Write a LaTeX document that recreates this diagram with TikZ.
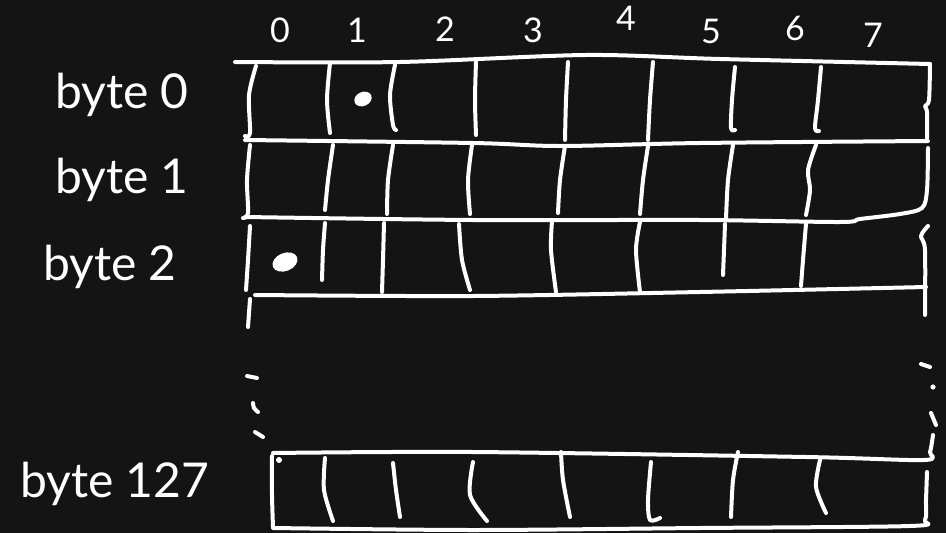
\documentclass[tikz,border=0pt]{standalone}
\usepackage{fontspec}
\setmainfont{Lato}
\definecolor{board}{RGB}{20,20,20}
\begin{document}
\begin{tikzpicture}[x=1pt,y=-1pt,
  chalk/.style={white, line width=4pt, line cap=round, line join=round},
  lab/.style={text=white, font=\fontsize{48}{48}\selectfont, anchor=base west, inner sep=0pt},
  num/.style={text=white, font=\fontsize{34}{34}\selectfont, inner sep=0pt}]
\fill[board] (0,0) rectangle (946,533);
\useasboundingbox (0,0) rectangle (946,533);
% row labels
\node[lab] (b0) at (55,108) {byte 0};
\node[lab] (b1) at (55,193) {byte 1};
\node[lab] (b2) at (43,280) {byte 2};
\node[lab] (b127) at (20,497) {byte 127};
% column numbers
\node[num] (n0) at (280,30) {0};
\node[num] (n1) at (357,30) {1};
\node[num] (n2) at (445,29) {2};
\node[num] (n3) at (533,30) {3};
\node[num] (n4) at (626,18) {4};
\node[num] (n5) at (711,31) {5};
\node[num] (n6) at (795,28) {6};
\node[num] (n7) at (873,35) {7};
% horizontal lines and outer edges
\draw[chalk] plot[smooth] coordinates {(235,62) (400,62) (586,55) (720,59) (930,64)};
\draw[chalk] plot[smooth] coordinates {(930,64) (929,100) (925,106) (927,112) (927,138)};
\draw[chalk] plot[smooth] coordinates {(245,140) (473,143) (560,146) (700,143) (928,141)};
\draw[chalk] plot[smooth] coordinates {(928,148) (927,190) (922,208) (900,214) (860,219) (840,222) (700,220) (473,220) (245,217)};
\draw[chalk] plot[smooth] coordinates {(928,226) (921,236) (925,250) (925,315)};
\draw[chalk] plot[smooth] coordinates {(255,295) (473,296) (700,292) (926,287)};
% left edges
\draw[chalk] plot[smooth] coordinates {(256,66) (249,95) (250,133) (245,136)};
\draw[chalk] plot[smooth] coordinates {(250,145) (247,180) (248,213) (243,218)};
\draw[chalk] plot[smooth] coordinates {(250,226) (248,260) (246,290)};
\draw[chalk] plot[smooth] coordinates {(250,299) (248,327)};
% row 0 dividers
\draw[chalk] plot[smooth] coordinates {(330,63) (327,100) (330,133)};
\draw[chalk] plot[smooth] coordinates {(395,65) (390,95) (393,125) (396,130)};
\draw[chalk] plot[smooth] coordinates {(476,62) (475,100) (476,135)};
\draw[chalk] plot[smooth] coordinates {(568,62) (566,100) (565,140)};
\draw[chalk] plot[smooth] coordinates {(653,62) (650,100) (648,140)};
\draw[chalk] plot[smooth] coordinates {(735,67) (732,100) (731,128) (735,130)};
\draw[chalk] plot[smooth] coordinates {(821,67) (818,100) (815,128) (819,131)};
% row 1 dividers
\draw[chalk] plot[smooth] coordinates {(333,145) (328,180) (325,210)};
\draw[chalk] plot[smooth] coordinates {(393,145) (388,180) (387,214)};
\draw[chalk] plot[smooth] coordinates {(472,145) (468,180) (470,214)};
\draw[chalk] plot[smooth] coordinates {(565,146) (560,180) (558,213)};
\draw[chalk] plot[smooth] coordinates {(648,146) (643,180) (640,214)};
\draw[chalk] plot[smooth] coordinates {(733,145) (728,180) (726,219)};
\draw[chalk] plot[smooth] coordinates {(816,145) (808,170) (810,190) (806,215)};
% row 2 dividers
\draw[chalk] plot[smooth] coordinates {(325,223) (323,250) (322,280)};
\draw[chalk] plot[smooth] coordinates {(384,223) (383,260) (382,292)};
\draw[chalk] plot[smooth] coordinates {(459,224) (462,260) (470,290)};
\draw[chalk] plot[smooth] coordinates {(552,221) (551,250) (556,292)};
\draw[chalk] plot[smooth] coordinates {(640,222) (636,250) (640,292)};
\draw[chalk] plot[smooth] coordinates {(725,224) (724,250) (723,275)};
\draw[chalk] plot[smooth] coordinates {(806,224) (803,260) (801,286)};
% set bits
\fill[white, rotate around={25:(363,99)}] (363,99) ellipse (9 and 7);
\fill[white, rotate around={22:(285,262)}] (285,262) ellipse (13 and 9);
% ellipses
\draw[chalk] plot[smooth] coordinates {(247,376) (257,378)};
\draw[chalk] plot[smooth] coordinates {(253,403) (254,408) (258,412)};
\draw[chalk] plot[smooth] coordinates {(255,432) (263,437)};
\draw[chalk] plot[smooth] coordinates {(921,364) (930,367)};
\fill[white] (933,387) circle (2.6);
\draw[chalk] plot[smooth] coordinates {(931,413) (936,425)};
% byte 127 row
\draw[chalk] plot[smooth] coordinates {(273,453) (473,452) (806,457) (924,460) (930,452) (933,435)};
\draw[chalk] plot[smooth] coordinates {(927,472) (926,500) (925,520) (910,526) (700,528) (473,530) (273,528)};
\draw[chalk] plot[smooth] coordinates {(272,456) (272,495) (273,527)};
\fill[white] (279,460) circle (3);
\draw[chalk] plot[smooth] coordinates {(325,458) (324,490) (333,521)};
\draw[chalk] plot[smooth] coordinates {(393,463) (396,490) (400,517)};
\draw[chalk] plot[smooth] coordinates {(473,462) (470,495) (487,521)};
\draw[chalk] plot[smooth] coordinates {(561,452) (563,480) (570,517)};
\draw[chalk] plot[smooth] coordinates {(651,462) (648,500) (650,520) (660,518)};
\draw[chalk] plot[smooth] coordinates {(738,452) (733,480) (731,517)};
\draw[chalk] plot[smooth] coordinates {(820,460) (816,487) (826,513)};
\end{tikzpicture}
\end{document}
